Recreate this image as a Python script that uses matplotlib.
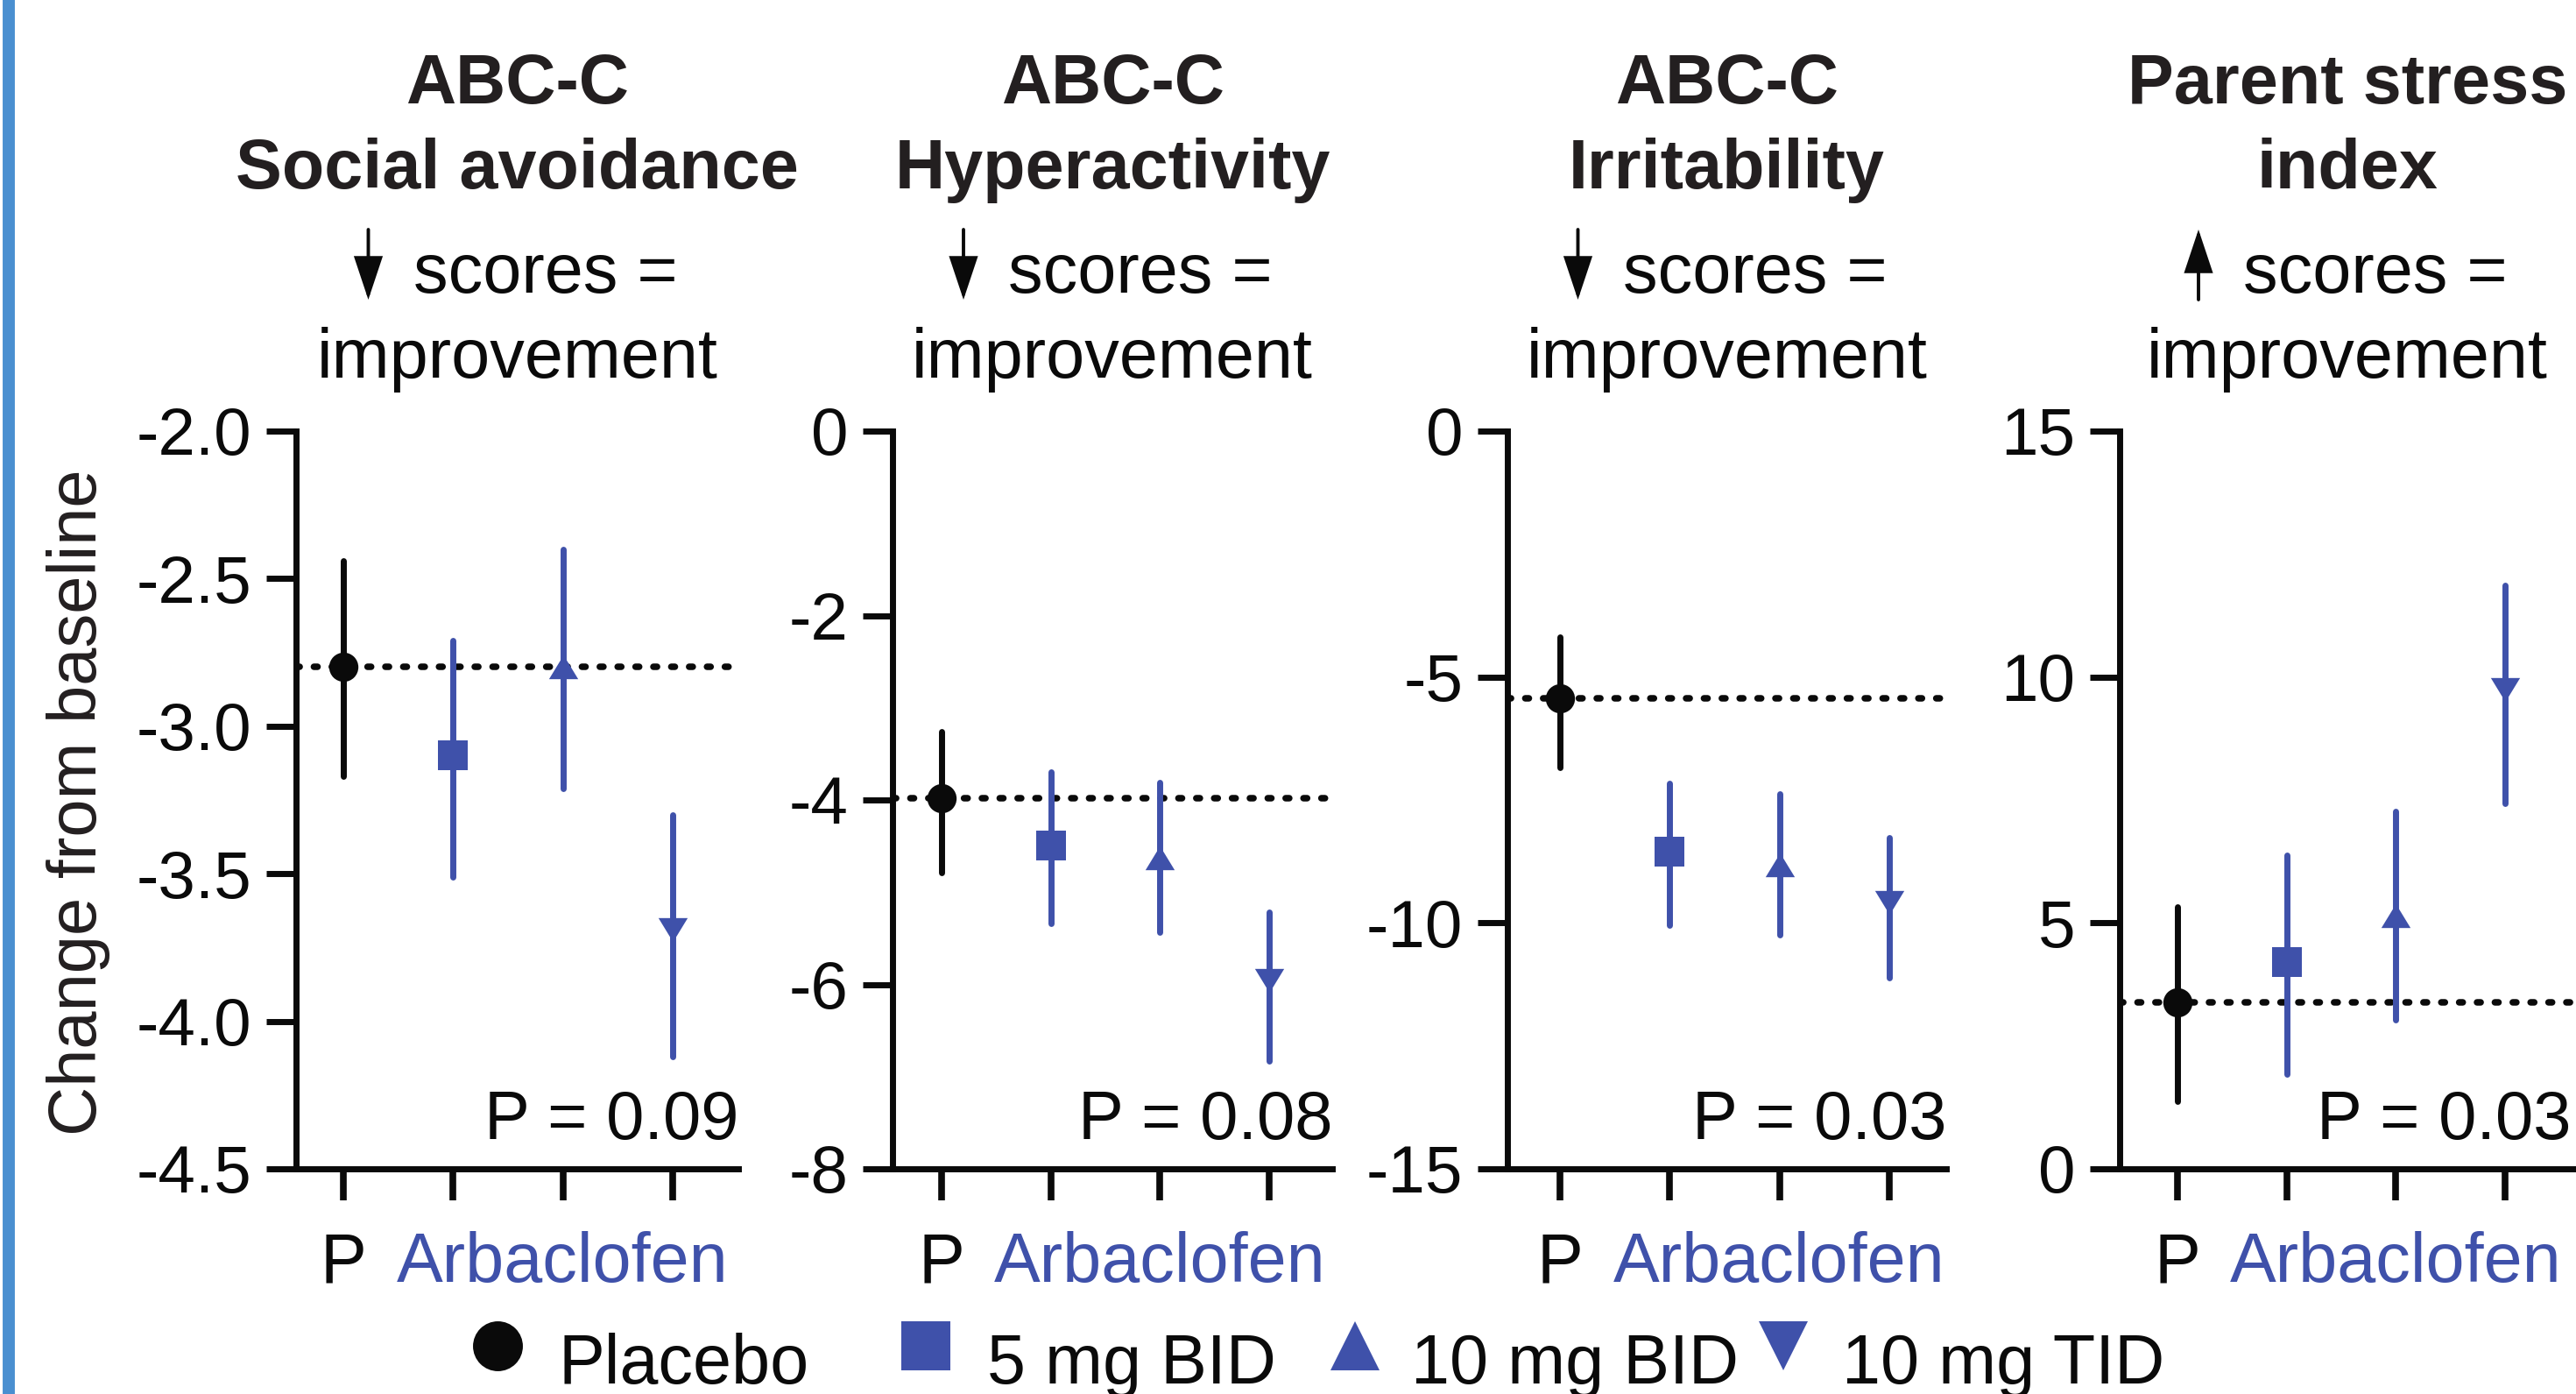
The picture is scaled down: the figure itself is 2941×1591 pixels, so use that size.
import matplotlib
matplotlib.use('Agg')
import matplotlib.pyplot as plt
from matplotlib.lines import Line2D
from matplotlib.patches import FancyArrowPatch
from matplotlib.transforms import blended_transform_factory
from matplotlib.markers import MarkerStyle
from matplotlib.path import Path

plt.rcParams['font.family'] = ['Liberation Sans', 'DejaVu Sans']
plt.rcParams['axes.unicode_minus'] = False

BLUE = '#3F51AA'
BLACK = '#0A0A0A'
SIDEBAR = '#4A8FD0'

# ---------------- data ----------------
groups = ['Placebo', '5 mg BID', '10 mg BID', '10 mg TID']
positions = [0, 1, 2, 3]

title_lines = [('ABC-C', 'Social avoidance'),
               ('ABC-C', 'Hyperactivity'),
               ('ABC-C', 'Irritability'),
               ('Parent stress', 'index')]
directions = ['down', 'down', 'down', 'up']
p_labels = ['P = 0.09', 'P = 0.08', 'P = 0.03', 'P = 0.03']

social_mean = [-2.80, -3.10, -2.80, -3.69]
social_hi = [-2.44, -2.71, -2.40, -3.30]
social_lo = [-3.17, -3.51, -3.21, -4.12]

hyper_mean = [-3.98, -4.49, -4.63, -5.96]
hyper_hi = [-3.26, -3.70, -3.81, -5.22]
hyper_lo = [-4.79, -5.34, -5.43, -6.83]

irrit_mean = [-5.43, -8.55, -8.82, -9.58]
irrit_hi = [-4.18, -7.16, -7.37, -8.26]
irrit_lo = [-6.84, -10.05, -10.25, -11.12]

psi_mean = [3.38, 4.20, 5.14, 9.75]
psi_hi = [5.33, 6.38, 7.27, 11.86]
psi_lo = [1.38, 1.92, 3.02, 7.43]

yticks_social = [-2.0, -2.5, -3.0, -3.5, -4.0, -4.5]
yticks_hyper = [0, -2, -4, -6, -8]
yticks_irrit = [0, -5, -10, -15]
yticks_psi = [0, 5, 10, 15]

ytick_fmt = ['{:.1f}', '{:d}', '{:d}', '{:d}']

panels = [
    (social_mean, social_lo, social_hi, yticks_social),
    (hyper_mean, hyper_lo, hyper_hi, yticks_hyper),
    (irrit_mean, irrit_lo, irrit_hi, yticks_irrit),
    (psi_mean, psi_lo, psi_hi, yticks_psi),
]

# ---------------- layout (pixels) ----------------
W, H = 2941, 1591
def fx(x):
    return x / W
def fy(y):
    return 1 - y / H

axes_px = [(338, 843), (1019, 1521), (1721, 2222), (2420, 2945)]
xlims = [(-0.43, 3.60), (-0.45, 3.58), (-0.48, 3.52), (-0.53, 3.68)]
p_text_x = [1.0, 1.0, 1.0, 0.981]
top_px, bot_px = 492, 1334

# markers
tri_up = MarkerStyle(Path([(-1, -0.82), (1, -0.82), (0, 0.82), (-1, -0.82)],
                          [Path.MOVETO, Path.LINETO, Path.LINETO, Path.CLOSEPOLY]))
tri_dn = MarkerStyle(Path([(-1, 0.82), (1, 0.82), (0, -0.82), (-1, 0.82)],
                          [Path.MOVETO, Path.LINETO, Path.LINETO, Path.CLOSEPOLY]))
markers = ['o', 's', tri_up, tri_dn]
msizes = [24.0, 24.5, 24.0, 24.0]
colors = [BLACK, BLUE, BLUE, BLUE]

fig = plt.figure(figsize=(W / 100, H / 100), dpi=100)

# left sidebar
fig.add_artist(Line2D([fx(10), fx(10)], [0, 1], transform=fig.transFigure,
                      color=SIDEBAR, lw=10, solid_capstyle='butt'))

for i, (means, lo, hi, yticks) in enumerate(panels):
    l, r = axes_px[i]
    ax = fig.add_axes([fx(l), fy(bot_px), (r - l) / W, (bot_px - top_px) / H])
    ax.set_xlim(*xlims[i])
    ax.set_ylim(min(yticks), max(yticks))

    # placebo reference line
    ax.axhline(means[0], color=BLACK, lw=5.4, linestyle=(0, (0.55, 2.17)),
               dash_capstyle='round', zorder=1)

    for j in positions:
        yerr = [[means[j] - lo[j]], [hi[j] - means[j]]]
        _, _, bars = ax.errorbar([j], [means[j]], yerr=yerr, fmt='none',
                                 ecolor=colors[j], elinewidth=5, capsize=0, zorder=2)
        for b in bars:
            b.set_capstyle('round')
        ax.plot([j], [means[j]], linestyle='none', marker=markers[j],
                markersize=msizes[j], color=colors[j], markeredgewidth=0, zorder=3)

    for side in ['top', 'right']:
        ax.spines[side].set_visible(False)
    for side in ['left', 'bottom']:
        ax.spines[side].set_linewidth(5)
        ax.spines[side].set_color(BLACK)
        ax.spines[side].set_capstyle('projecting')

    ax.set_yticks(yticks)
    ax.set_yticklabels([ytick_fmt[i].format(t) for t in yticks])
    ax.tick_params(axis='y', length=24.5, width=5, pad=12, labelsize=55,
                   color=BLACK, labelcolor=BLACK)
    ax.set_xticks(positions)
    ax.tick_params(axis='x', length=26, width=5.5, labelbottom=False, color=BLACK)

    trans = blended_transform_factory(ax.transData, ax.transAxes)
    lab_y = (bot_px - 1463) / (bot_px - top_px)
    ax.text(0, lab_y, 'P', transform=trans, ha='center', va='baseline',
            fontsize=57, color=BLACK)
    ax.text(2, lab_y, 'Arbaclofen', transform=trans, ha='center', va='baseline',
            fontsize=57, color=BLUE)

    ax.text(p_text_x[i], (bot_px - 1300) / (bot_px - top_px), p_labels[i],
            transform=ax.transAxes, ha='right', va='baseline', fontsize=56, color=BLACK)

    # titles
    cx = (l + min(r, 2940)) / 2
    t1, t2 = title_lines[i]
    fig.text(fx(cx), fy(118), t1, ha='center', va='baseline', fontsize=57,
             fontweight='bold', color='#231F20')
    fig.text(fx(cx), fy(215), t2, ha='center', va='baseline', fontsize=57,
             fontweight='bold', color='#231F20')
    fig.text(fx(cx + 32), fy(334), 'scores =', ha='center', va='baseline',
             fontsize=57, color=BLACK)
    fig.text(fx(cx), fy(431), 'improvement', ha='center', va='baseline',
             fontsize=57, color=BLACK)
    ax_x = cx - 170
    if directions[i] == 'down':
        p0, p1 = (fx(ax_x), fy(262)), (fx(ax_x), fy(342))
    else:
        p0, p1 = (fx(ax_x), fy(342)), (fx(ax_x), fy(262))
    arr = FancyArrowPatch(p0, p1, transform=fig.transFigure,
                          arrowstyle='-|>,head_length=0.30,head_width=0.10',
                          mutation_scale=100, lw=2.8, color=BLACK,
                          shrinkA=0, shrinkB=0, joinstyle='miter')
    fig.add_artist(arr)

# y label
fig.text(fx(90), fy(916), 'Change from baseline', rotation=90, ha='center',
         va='center', fontsize=56, color='#231F20')

# legend (manual placement)
leg_marker_x = [568, 1057, 1547, 2036]
leg_text_x = [637, 1127, 1611, 2103]
leg_markers = ['o', 's', '^', 'v']
for k in range(4):
    fig.add_artist(Line2D([fx(leg_marker_x[k])], [fy(1536)], transform=fig.transFigure,
                          linestyle='none', marker=leg_markers[k], markersize=41,
                          color=colors[k], markeredgewidth=0))
    fig.text(fx(leg_text_x[k]), fy(1579), groups[k], ha='left', va='baseline',
             fontsize=57, color=BLACK)

fig.savefig('out.png', dpi=100)
